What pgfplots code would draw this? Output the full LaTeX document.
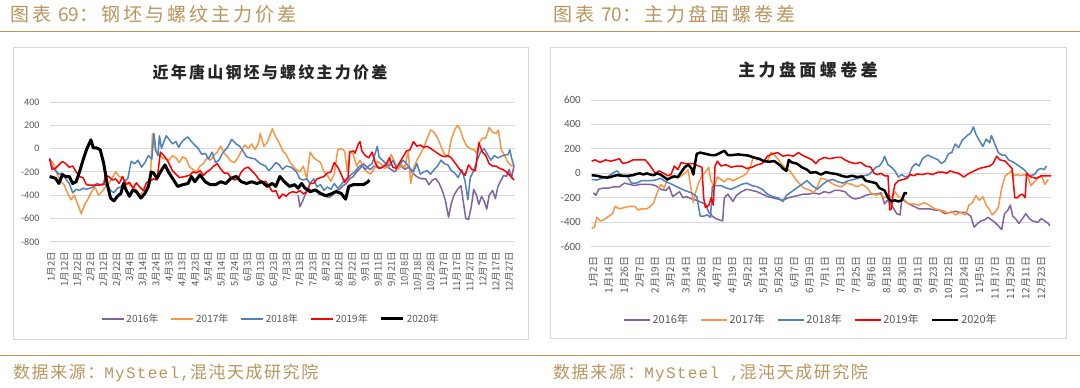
\documentclass[border=0pt]{standalone}
\usepackage{fontspec}
\usepackage{pgfplots}
\pgfplotsset{compat=1.18}
\setmainfont{Carlito}
\newfontfamily\cjk{Noto Sans CJK SC}
\newfontfamily\hd[LetterSpace=16]{Noto Sans CJK SC}
\newfontfamily\sr[LetterSpace=9]{Noto Sans CJK SC}
\newfontfamily\mono[LetterSpace=8]{Liberation Mono}
\newfontfamily\tta[LetterSpace=14]{Noto Sans CJK SC}
\newfontfamily\ttb[LetterSpace=20]{Noto Sans CJK SC}
\definecolor{gold}{RGB}{185,150,95}
\definecolor{cP}{RGB}{128,100,162}
\definecolor{cO}{RGB}{247,150,70}
\definecolor{cB}{RGB}{79,129,189}
\definecolor{cR}{RGB}{255,0,0}
\definecolor{tk}{RGB}{89,89,89}
\definecolor{fr}{RGB}{217,217,217}
\pgfplotsset{
  myax/.style={
    scale only axis,
    axis line style={draw=none},
    major tick length=0pt,
    ymajorgrids, grid style={draw=fr, line width=0.8pt},
    /pgf/number format/assume math mode=true,
    xtick pos=bottom, ytick pos=left,
    xticklabel style={rotate=90, anchor=east, font=\cjk\fontsize{9.5}{9.5}\selectfont, text=tk, inner sep=0pt},
    xticklabel shift=10pt,
    yticklabel style={text=tk, inner sep=0pt},
    legend columns=5,
    legend style={draw=none, fill=none, font=\cjk\fontsize{10}{10}\selectfont, text=tk,
      /tikz/every even column/.append style={column sep=10pt}},
    clip=false,
  },
  cl/.style={line width=1.5pt, line join=round},
}
\begin{document}
\begin{tikzpicture}[x=1pt,y=1pt]
\path[use as bounding box] (0,0) rectangle (1080,388);
\fill[white] (0,0) rectangle (1080,388);
% headings and rules
\draw[gold, line width=1.5pt] (0,356.3) -- (1080,356.3);
\draw[gold, line width=1.5pt] (0,32.3) -- (1080,32.3);
\node[anchor=west, inner sep=0pt, text=gold, font=\fontsize{19}{19}\selectfont] at (10,373.5) {\hd 图表\hspace{7pt}\cjk 69\hd ：钢坯与螺纹主力价差};
\node[anchor=west, inner sep=0pt, text=gold, font=\fontsize{19}{19}\selectfont] at (553,373.5) {\hd 图表\hspace{7pt}\cjk 70\hd ：主力盘面螺卷差};
\node[anchor=west, inner sep=0pt, text=gold, font=\fontsize{17}{17}\selectfont] at (13,15) {\sr 数据来源：\mono\fontsize{16}{16}\selectfont MySteel,\sr\fontsize{17}{17}\selectfont 混沌天成研究院};
\node[anchor=west, inner sep=0pt, text=gold, font=\fontsize{17}{17}\selectfont] at (553,15) {\sr 数据来源：\mono\fontsize{16}{16}\selectfont MySteel ,\sr\fontsize{17}{17}\selectfont 混沌天成研究院};
% frames
\draw[fr, line width=0.8pt] (13.5,48.5) rectangle (528,341);
\draw[fr, line width=0.8pt] (550,49.5) rectangle (1066,341);
% titles
\node[font=\tta\bfseries\fontsize{16}{16}\selectfont, text=black!85] at (270,316) {近年唐山钢坯与螺纹主力价差};
\node[font=\ttb\bfseries\fontsize{17}{17}\selectfont, text=black!85] at (808,318) {主力盘面螺卷差};

\begin{axis}[myax,
  at={(49.6pt,146.3pt)}, anchor=south west,
  width=465.4pt, height=139.7pt,
  xmin=143, xmax=1495, ymin=-800, ymax=400,
  ytick={-800,-600,...,400},
  yticklabel style={font=\fontsize{10}{10}\selectfont, xshift=-10pt},
  xtick={148,186,...,1479},
  xticklabels={1月2日,1月12日,1月22日,2月2日,2月12日,2月22日,3月4日,3月14日,3月24日,4月3日,4月13日,4月23日,5月4日,5月14日,5月24日,6月3日,6月13日,6月23日,7月3日,7月13日,7月23日,8月2日,8月12日,8月22日,9月1日,9月11日,9月21日,10月8日,10月18日,10月28日,11月7日,11月17日,11月27日,12月7日,12月17日,12月27日},
  legend style={at={(0.4757,-0.553)}, anchor=center},
  legend image code/.code={\draw[#1] (0pt,0pt) -- (22pt,0pt);},
]
\addplot[cl, cP] coordinates {(865,-400)(870,-500)(878,-450)(885,-400)(895,-340)(905,-370)(915,-350)(925,-390)(935,-400)(945,-410)(955,-420)(965,-400)(975,-360)(985,-350)(995,-320)(1005,-300)(1015,-260)(1025,-240)(1035,-200)(1045,-170)(1055,-130)(1065,-160)(1075,-180)(1085,-150)(1095,-160)(1105,-170)(1115,-140)(1125,-160)(1135,-180)(1145,-200)(1155,-170)(1165,-150)(1175,-180)(1185,-160)(1195,-200)(1205,-230)(1215,-250)(1225,-260)(1235,-260)(1245,-310)(1255,-270)(1265,-260)(1275,-300)(1285,-370)(1293,-450)(1302,-590)(1310,-470)(1318,-400)(1328,-350)(1338,-320)(1345,-460)(1352,-600)(1360,-610)(1368,-500)(1375,-350)(1383,-400)(1390,-480)(1398,-410)(1405,-450)(1413,-520)(1420,-400)(1430,-360)(1438,-430)(1445,-330)(1453,-280)(1462,-230)(1470,-240)(1478,-180)(1485,-250)(1492,-150)};
\addlegendentry{2016年}
\addplot[cl, cO] coordinates {(143,-90)(155,-130)(165,-220)(175,-280)(185,-310)(195,-380)(205,-440)(215,-400)(225,-480)(235,-560)(245,-480)(255,-430)(265,-370)(275,-330)(285,-400)(295,-370)(305,-330)(315,-300)(325,-250)(335,-200)(345,-240)(355,-250)(365,-290)(375,-310)(385,-330)(395,-350)(405,-400)(415,-370)(425,-340)(435,-300)(442,130)(450,-10)(458,-40)(470,-80)(480,-90)(490,-100)(500,-60)(510,-80)(520,-120)(530,-70)(540,-90)(550,-160)(560,-180)(570,-200)(580,-150)(590,-130)(600,-80)(610,-100)(620,-60)(630,-30)(640,20)(650,-40)(660,-70)(670,-110)(680,-120)(690,-80)(700,-20)(710,30)(720,0)(730,40)(740,-10)(750,50)(755,130)(765,20)(775,50)(790,170)(800,100)(810,50)(820,-20)(830,-50)(840,-110)(850,-150)(860,-180)(870,-200)(880,-150)(890,-260)(900,-30)(910,-80)(920,-100)(930,-120)(940,-200)(950,-230)(960,-280)(970,-220)(980,-10)(990,0)(1000,-20)(1008,-200)(1015,-20)(1025,-50)(1035,-150)(1045,-100)(1055,-170)(1065,-200)(1075,-220)(1085,-180)(1095,-110)(1105,-130)(1115,-170)(1125,-160)(1135,-50)(1145,-110)(1155,-180)(1165,-140)(1175,-160)(1185,-20)(1192,-300)(1200,-170)(1210,-100)(1220,-50)(1230,10)(1240,90)(1250,160)(1260,140)(1270,90)(1280,20)(1290,-50)(1300,-70)(1310,80)(1320,160)(1328,200)(1335,170)(1345,80)(1355,20)(1365,0)(1375,-10)(1385,-40)(1393,60)(1400,90)(1410,90)(1420,180)(1430,140)(1440,130)(1447,160)(1455,-10)(1465,-60)(1475,-120)(1485,-150)(1492,-140)};
\addlegendentry{2017年}
\addplot[cl, cB] coordinates {(143,-80)(150,-150)(160,-190)(170,-220)(180,-210)(190,-260)(200,-300)(210,-380)(220,-350)(230,-360)(240,-340)(250,-350)(260,-340)(270,-330)(280,-300)(290,-310)(300,-300)(310,-320)(320,-360)(330,-380)(340,-340)(350,-330)(360,-280)(370,-260)(380,-110)(390,-130)(400,-100)(410,-160)(420,-120)(430,-60)(440,-90)(446,130)(452,-20)(458,-60)(462,110)(468,0)(475,60)(482,110)(490,80)(500,40)(510,60)(518,10)(525,50)(535,80)(545,100)(555,60)(565,30)(575,0)(585,-50)(595,-40)(605,-90)(615,-30)(625,-120)(635,-100)(645,-40)(660,10)(672,80)(685,40)(695,20)(705,-20)(715,-70)(725,-80)(740,-90)(755,-130)(770,-150)(780,-190)(790,-160)(800,-120)(810,-140)(820,-180)(830,-150)(845,-160)(860,-200)(870,-260)(880,-270)(890,-260)(900,-300)(910,-260)(920,-330)(930,-310)(940,-360)(950,-330)(960,-350)(970,-300)(980,-340)(990,-310)(1000,-270)(1010,-250)(1020,-220)(1030,-200)(1040,-160)(1050,-140)(1060,-180)(1070,-150)(1080,-130)(1095,20)(1100,-70)(1110,-100)(1120,-130)(1130,-150)(1140,-100)(1150,-160)(1160,-140)(1170,-100)(1180,-130)(1190,-170)(1200,-200)(1210,-130)(1220,-220)(1230,-200)(1240,-190)(1250,-220)(1260,-180)(1270,-150)(1280,-100)(1290,-130)(1300,-140)(1310,-190)(1320,-210)(1330,-250)(1340,-180)(1350,-280)(1358,-440)(1365,-250)(1375,-190)(1385,-100)(1395,-30)(1405,0)(1415,-50)(1425,-100)(1435,-60)(1445,-80)(1460,-60)(1475,-50)(1480,-10)(1485,-80)(1492,-150)};
\addlegendentry{2018年}
\addplot[cl, cR] coordinates {(143,-90)(150,-180)(160,-170)(170,-140)(180,-110)(190,-130)(200,-160)(210,-150)(220,-200)(230,-240)(240,-250)(250,-310)(260,-315)(280,-315)(300,-310)(305,-230)(315,-240)(325,-270)(335,-260)(345,-300)(355,-240)(365,-310)(375,-290)(385,-340)(395,-295)(405,-330)(415,-360)(425,-290)(435,-280)(445,-260)(455,-270)(465,-30)(475,-60)(485,-100)(500,-190)(510,-220)(520,-250)(535,-240)(550,-230)(560,-200)(570,-210)(580,-190)(590,-230)(600,-200)(610,-180)(620,-150)(630,-130)(640,-175)(650,-210)(660,-210)(670,-250)(680,-270)(690,-260)(700,-200)(710,-170)(720,-160)(730,-190)(740,-220)(750,-260)(760,-290)(770,-280)(780,-320)(790,-370)(800,-360)(810,-430)(820,-390)(830,-410)(840,-380)(850,-370)(860,-380)(870,-360)(880,-390)(890,-370)(900,-300)(910,-300)(920,-260)(930,-250)(940,-240)(950,-210)(960,-200)(970,-120)(980,-160)(990,-220)(1000,-290)(1010,-250)(1015,-30)(1025,-20)(1030,-40)(1040,40)(1045,60)(1050,-20)(1060,-60)(1070,-80)(1080,-30)(1090,-130)(1100,-170)(1110,-160)(1120,-140)(1130,-80)(1140,-160)(1150,-170)(1160,-120)(1170,-70)(1180,-20)(1190,-10)(1200,60)(1210,20)(1220,30)(1230,10)(1240,20)(1250,0)(1260,-20)(1270,-40)(1280,-60)(1290,-70)(1300,-60)(1310,-80)(1320,-120)(1330,-160)(1340,-200)(1350,-230)(1360,-140)(1370,-180)(1380,-190)(1390,50)(1400,-30)(1410,-60)(1420,-130)(1430,-150)(1440,-150)(1450,-170)(1460,-180)(1470,-200)(1480,-230)(1492,-270)};
\addlegendentry{2019年}
\addplot[line width=3pt, black, line join=round] coordinates {(143,-240)(160,-255)(170,-300)(180,-225)(190,-240)(200,-240)(210,-300)(220,-285)(230,-200)(240,-100)(250,-10)(263,75)(270,5)(280,5)(290,-10)(300,-125)(310,-300)(320,-425)(330,-450)(340,-410)(350,-385)(358,-300)(365,-355)(375,-410)(385,-355)(395,-370)(408,-425)(420,-385)(430,-325)(438,-200)(445,-210)(455,-255)(465,-200)(478,-140)(488,-200)(500,-255)(515,-325)(530,-310)(545,-300)(555,-240)(565,-285)(580,-225)(595,-285)(610,-310)(625,-310)(640,-285)(655,-300)(670,-255)(685,-240)(700,-285)(715,-300)(730,-285)(745,-300)(760,-285)(775,-325)(790,-300)(800,-325)(812,-240)(825,-285)(840,-325)(855,-310)(865,-340)(875,-300)(885,-340)(900,-370)(915,-355)(930,-385)(945,-405)(960,-390)(975,-370)(990,-385)(1003,-435)(1012,-325)(1025,-310)(1040,-310)(1055,-310)(1068,-285)(1072,-270)};
\addlegendentry{2020年}
\end{axis}

\begin{axis}[myax,
  at={(591pt,141.3pt)}, anchor=south west,
  width=460pt, height=146.7pt,
  xmin=148, xmax=1483, ymin=-600, ymax=600,
  ytick={-600,-400,...,600},
  yticklabel style={font=\fontsize{11}{11}\selectfont, xshift=-10pt},
  xtick={155,199.83,...,1457},
  xticklabels={1月2日,1月14日,1月26日,2月7日,2月19日,3月2日,3月14日,3月26日,4月7日,4月19日,5月2日,5月14日,5月26日,6月7日,6月19日,7月1日,7月13日,7月25日,8月6日,8月18日,8月30日,9月11日,9月23日,10月12日,10月24日,11月5日,11月17日,11月29日,12月11日,12月23日},
  xticklabel style={font=\cjk\fontsize{10}{10}\selectfont},
  legend style={at={(0.478,-0.4997)}, anchor=center, font=\cjk\fontsize{11}{11}\selectfont},
  legend image code/.code={\draw[#1] (0pt,0pt) -- (26pt,0pt);},
]
\addplot[cl, cP] coordinates {(155,-160)(162,-180)(170,-130)(185,-120)(200,-120)(215,-110)(230,-110)(245,-80)(260,-90)(275,-100)(290,-90)(305,-90)(320,-90)(335,-100)(350,-130)(365,-140)(375,-110)(385,-190)(395,-170)(405,-150)(415,-200)(425,-190)(440,-210)(455,-220)(470,-240)(480,-250)(490,-320)(500,-350)(510,-370)(520,-380)(530,-390)(535,-200)(545,-170)(560,-230)(570,-180)(585,-150)(600,-130)(615,-140)(630,-150)(645,-170)(660,-190)(675,-200)(690,-210)(705,-220)(720,-200)(735,-190)(750,-180)(765,-170)(780,-170)(795,-160)(810,-170)(825,-150)(840,-160)(855,-140)(870,-140)(885,-150)(895,-180)(905,-200)(915,-210)(930,-200)(945,-180)(960,-170)(975,-170)(990,-160)(1000,-250)(1008,-220)(1015,-240)(1025,-280)(1035,-330)(1045,-340)(1050,-210)(1060,-230)(1070,-250)(1085,-270)(1100,-290)(1115,-290)(1130,-290)(1145,-300)(1160,-300)(1175,-330)(1190,-320)(1205,-310)(1220,-320)(1235,-320)(1250,-350)(1260,-440)(1270,-410)(1280,-390)(1290,-380)(1300,-360)(1310,-380)(1320,-400)(1330,-430)(1340,-460)(1348,-330)(1358,-300)(1365,-260)(1372,-350)(1380,-370)(1390,-410)(1400,-370)(1410,-330)(1420,-370)(1430,-390)(1445,-400)(1455,-370)(1465,-390)(1475,-410)(1480,-430)};
\addlegendentry{2016年}
\addplot[cl, cO] coordinates {(150,-450)(158,-440)(165,-360)(175,-390)(185,-380)(195,-360)(210,-330)(218,-270)(230,-290)(245,-280)(260,-270)(275,-270)(285,-300)(295,-290)(310,-290)(320,-270)(330,-240)(340,-160)(350,-90)(360,-120)(370,-50)(385,-20)(400,-40)(410,-20)(420,0)(430,30)(438,-120)(445,-240)(450,-170)(460,-80)(470,-20)(480,10)(490,50)(495,-50)(505,-110)(515,-30)(525,-50)(535,-70)(545,-40)(560,-60)(575,-40)(590,-20)(600,0)(610,50)(620,140)(630,110)(640,120)(650,90)(660,100)(670,170)(680,150)(690,120)(700,80)(710,50)(725,20)(735,-20)(745,-60)(755,-90)(765,-120)(775,-130)(785,-140)(795,-160)(805,-110)(815,-40)(830,-50)(845,-80)(860,-100)(875,-110)(890,-80)(905,-90)(920,-110)(935,-90)(950,-120)(960,-160)(975,-180)(985,-170)(1000,-200)(1010,-180)(1020,-200)(1030,-150)(1040,-190)(1055,-210)(1070,-250)(1085,-250)(1100,-260)(1115,-240)(1130,-260)(1145,-290)(1160,-300)(1175,-310)(1185,-330)(1195,-310)(1205,-340)(1220,-320)(1235,-340)(1245,-260)(1255,-240)(1265,-180)(1275,-220)(1285,-190)(1295,-260)(1305,-300)(1312,-340)(1320,-320)(1330,-280)(1340,-120)(1350,-20)(1360,0)(1368,20)(1375,-20)(1385,-10)(1395,-20)(1405,-10)(1415,-20)(1425,-100)(1435,-70)(1445,-40)(1455,-20)(1465,-90)(1475,-50)};
\addlegendentry{2017年}
\addplot[cl, cB] coordinates {(150,-50)(165,-55)(180,-40)(195,-30)(205,-10)(215,10)(225,20)(232,-10)(245,-20)(255,-30)(265,-80)(280,-80)(295,-60)(310,-60)(325,-60)(340,-50)(350,-40)(360,-60)(375,-80)(390,-100)(405,-120)(420,-140)(440,-160)(455,-190)(465,-350)(475,-350)(485,-340)(495,-360)(500,-110)(510,-100)(525,-100)(540,-120)(555,-130)(570,-110)(585,-90)(600,-80)(615,-100)(630,-110)(645,-130)(660,-170)(675,-190)(690,-200)(705,-230)(715,-180)(730,-150)(745,-120)(760,-90)(775,-60)(790,-100)(805,-130)(820,-90)(835,-60)(850,-50)(865,-70)(880,-80)(895,-60)(910,-50)(925,-40)(940,-20)(955,-10)(965,20)(975,50)(985,60)(995,100)(1000,140)(1010,70)(1020,50)(1030,20)(1040,-30)(1050,-10)(1060,-30)(1070,-20)(1080,50)(1090,80)(1100,60)(1110,120)(1125,150)(1140,130)(1155,110)(1165,80)(1175,100)(1185,160)(1195,170)(1205,240)(1215,210)(1225,270)(1240,310)(1250,330)(1258,380)(1265,320)(1275,270)(1285,220)(1295,280)(1305,250)(1310,310)(1320,240)(1330,170)(1340,150)(1350,150)(1360,110)(1375,90)(1390,60)(1405,30)(1420,-20)(1435,-10)(1445,30)(1455,40)(1463,30)(1470,60)};
\addlegendentry{2018年}
\addplot[cl, cR] coordinates {(150,100)(160,110)(175,90)(190,110)(205,100)(220,110)(230,120)(240,80)(255,90)(270,110)(290,110)(305,110)(315,80)(325,40)(335,0)(345,20)(360,0)(370,-20)(380,-10)(390,60)(400,30)(410,90)(420,80)(435,80)(445,80)(460,60)(470,50)(475,-200)(480,-280)(490,-260)(497,-200)(503,-260)(508,60)(515,100)(525,60)(540,70)(555,50)(570,60)(585,60)(600,40)(615,50)(630,70)(645,80)(660,140)(675,160)(690,170)(705,140)(720,150)(735,140)(750,170)(760,150)(775,130)(790,110)(800,80)(810,110)(825,130)(840,120)(860,130)(875,130)(885,110)(900,90)(915,80)(930,90)(945,60)(960,50)(970,0)(980,-10)(990,0)(1000,-20)(1010,-20)(1015,-300)(1020,-290)(1025,-160)(1030,-90)(1040,-60)(1055,-50)(1065,-40)(1075,-10)(1085,-20)(1095,-5)(1110,-10)(1125,0)(1140,-10)(1155,10)(1170,10)(1180,0)(1190,20)(1200,10)(1215,0)(1230,-30)(1245,0)(1260,20)(1275,40)(1290,50)(1305,60)(1315,80)(1325,140)(1335,110)(1350,100)(1360,70)(1370,40)(1378,-200)(1385,-200)(1392,-180)(1400,-170)(1408,-200)(1412,0)(1425,-30)(1440,-40)(1455,-20)(1470,-20)(1483,-20)};
\addlegendentry{2019年}
\addplot[line width=2.5pt, black, line join=round] coordinates {(150,-15)(165,-20)(180,-30)(195,-35)(205,-30)(215,-20)(225,-15)(240,-20)(255,-20)(270,-15)(280,-5)(290,0)(300,-10)(310,0)(320,-10)(330,-15)(340,0)(350,-10)(360,-30)(370,-50)(380,-35)(390,-25)(400,-30)(410,10)(420,50)(430,70)(440,40)(445,-10)(450,80)(455,160)(465,170)(480,160)(495,150)(510,150)(525,170)(535,185)(545,150)(560,150)(575,155)(590,150)(605,145)(620,130)(635,120)(650,100)(665,95)(680,100)(695,70)(705,40)(715,20)(722,110)(730,90)(745,80)(760,50)(775,30)(785,5)(800,10)(815,-10)(830,10)(845,0)(860,-5)(875,-20)(890,-30)(905,-20)(920,-30)(935,-25)(945,-60)(960,-70)(975,-80)(985,-120)(1000,-140)(1010,-200)(1020,-230)(1030,-220)(1040,-230)(1050,-220)(1058,-160)(1065,-165)};
\addlegendentry{2020年}
\end{axis}
\end{tikzpicture}
\end{document}
